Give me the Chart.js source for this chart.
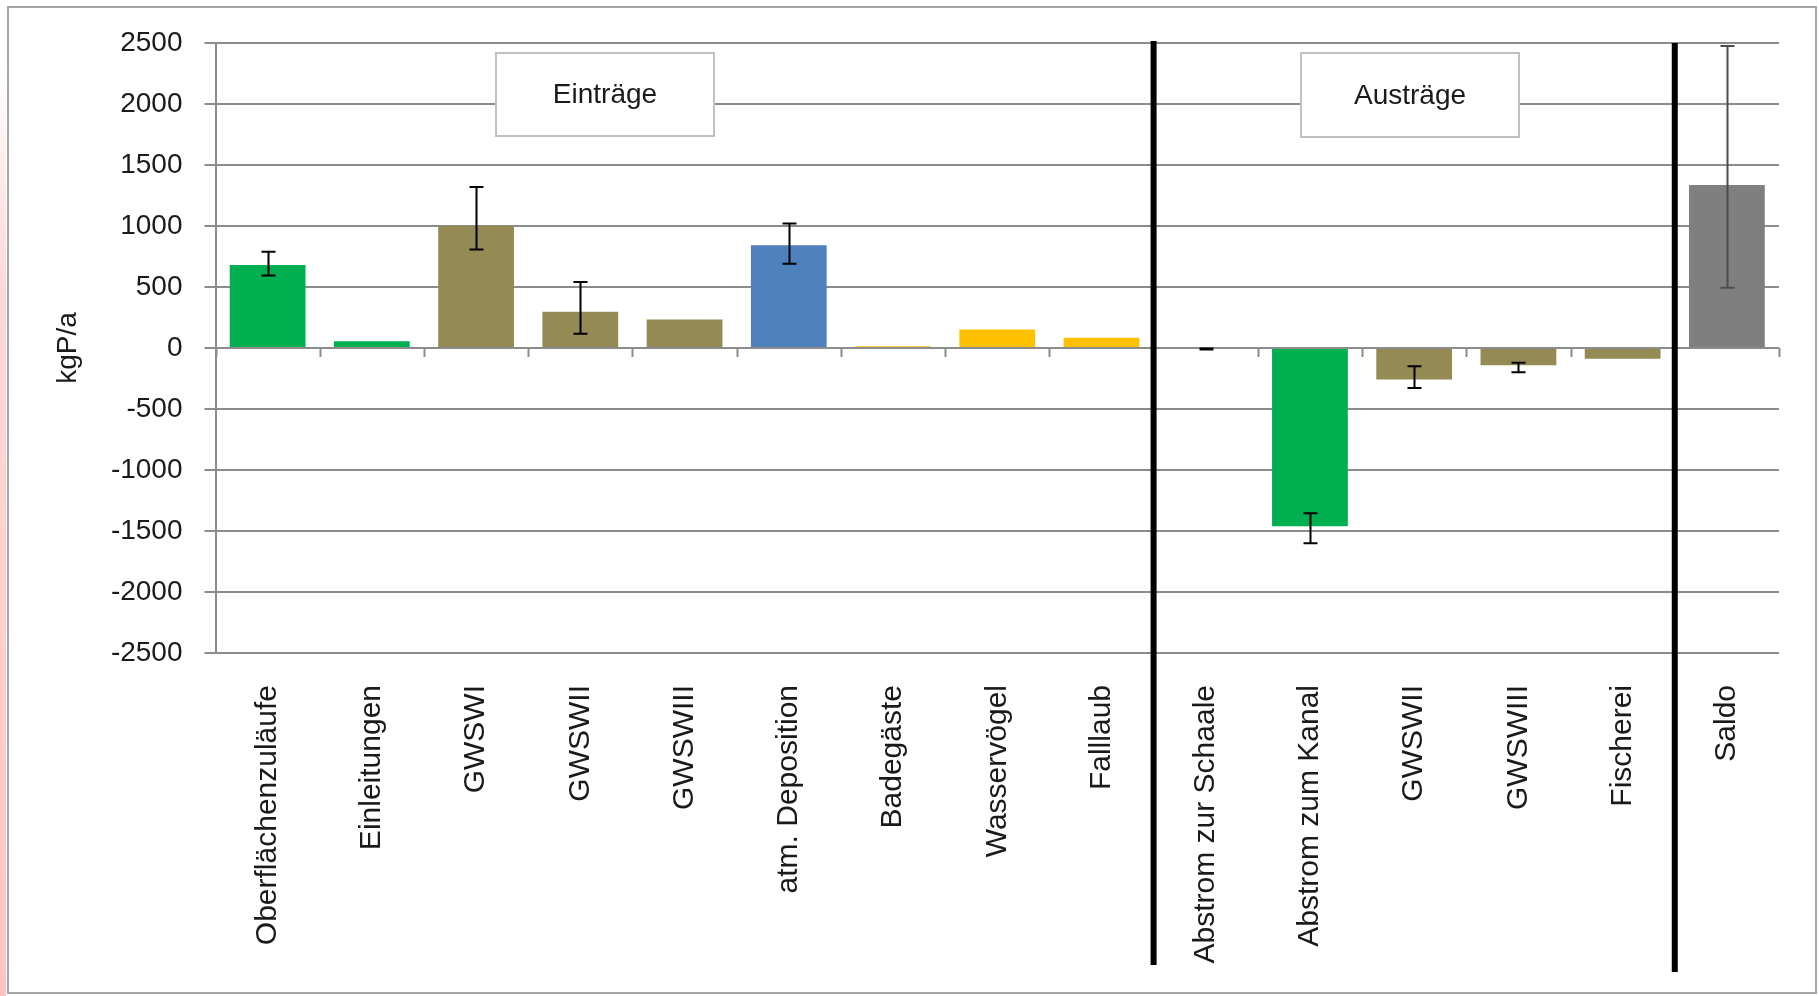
<!DOCTYPE html>
<html lang="de">
<head>
<meta charset="utf-8">
<title>Phosphorbilanz – Einträge und Austräge</title>
<script src="https://cdn.jsdelivr.net/npm/chart.js@4.4.1/dist/chart.umd.min.js"></script>
<style>
  html, body { margin: 0; padding: 0; background: #ffffff; }
  #wrap { position: relative; width: 1819px; height: 996px; }
  canvas { display: block; }
</style>
</head>
<body>
<div id="wrap"><canvas id="chart" width="1819" height="996"></canvas></div>
<script>
// Phosphorus budget (kgP/a): inputs, outputs and balance
const categories = [
  'Oberflächenzuläufe', 'Einleitungen', 'GWSWI', 'GWSWII', 'GWSWIII',
  'atm. Deposition', 'Badegäste', 'Wasservögel', 'Falllaub',
  'Abstrom zur Schaale', 'Abstrom zum Kanal', 'GWSWII', 'GWSWIII', 'Fischerei',
  'Saldo'
];
const values  = [680, 56, 1000, 297, 234, 843, 15, 151, 83, -8, -1462, -258, -141, -89, 1336];
// lower / upper end of each error bar (null = no error bar)
const errLow  = [595, null, 808, 116, null, 691, null, null, null, -12, -1601, -327, -199, null, 494];
const errHigh = [789, null, 1319, 540, null, 1021, null, null, null, -4, -1355, -149, -121, null, 2476];
const barColors = [
  '#00B050', '#00B050', '#948A54', '#948A54', '#948A54',
  '#4F81BD', '#FFC000', '#FFC000', '#FFC000',
  '#00B050', '#00B050', '#948A54', '#948A54', '#948A54',
  '#7F7F7F'
];
const errColors = [
  '#000', '#000', '#000', '#000', '#000', '#000', '#000', '#000', '#000',
  '#000', '#000', '#000', '#000', '#000', '#4D4D4D'
];
const yMin = -2500, yMax = 2500, yStep = 500;
const groupTitles = ['Einträge', 'Austräge'];
const groupBreaks = [9, 14];   // category index where a new block starts

const FONT = '"Liberation Sans", Arial, sans-serif';
const GRID = '#8C8C8C';

const decorations = {
  id: 'decorations',
  beforeDraw(chart) {
    const ctx = chart.ctx;
    ctx.save();
    ctx.fillStyle = '#ffffff';
    ctx.fillRect(0, 0, chart.width, chart.height);
    // reddish edge on the left side
    const g = ctx.createLinearGradient(0, 60, 0, chart.height);
    g.addColorStop(0, 'rgba(255,200,200,0)');
    g.addColorStop(0.25, 'rgba(255,205,205,0.8)');
    g.addColorStop(1, 'rgba(255,195,195,1)');
    ctx.fillStyle = g;
    ctx.fillRect(0, 60, 6, chart.height - 60);
    // outer frame
    ctx.strokeStyle = '#A6A6A6';
    ctx.lineWidth = 2;
    ctx.strokeRect(8, 7, 1808, 986);
    ctx.restore();
  },
  afterDatasetsDraw(chart, args, opts) {
    const ctx = chart.ctx;
    const xs = chart.scales.x, ys = chart.scales.y;
    const step = xs.getPixelForValue(1) - xs.getPixelForValue(0);
    const y0 = ys.getPixelForValue(0);
    ctx.save();

    // category tick marks on the zero line
    ctx.strokeStyle = GRID;
    ctx.lineWidth = 2;
    ctx.beginPath();
    for (let i = 0; i <= categories.length; i++) {
      const px = Math.round(xs.getPixelForValue(0) - step / 2 + i * step) + 0.5;
      ctx.moveTo(px, y0);
      ctx.lineTo(px, y0 + 9);
    }
    ctx.stroke();

    // error bars
    ctx.lineWidth = 2;
    for (let i = 0; i < categories.length; i++) {
      if (errLow[i] === null || errHigh[i] === null) continue;
      const px = Math.round(xs.getPixelForValue(i)) + 0.5;
      const yl = ys.getPixelForValue(errLow[i]);
      const yh = ys.getPixelForValue(errHigh[i]);
      ctx.strokeStyle = errColors[i];
      ctx.beginPath();
      ctx.moveTo(px, yl); ctx.lineTo(px, yh);
      ctx.moveTo(px - 7, yl); ctx.lineTo(px + 7, yl);
      ctx.moveTo(px - 7, yh); ctx.lineTo(px + 7, yh);
      ctx.stroke();
    }

    // block captions
    opts.boxes.forEach((b, k) => {
      ctx.fillStyle = '#ffffff';
      ctx.fillRect(b.x, b.y, b.w, b.h);
      ctx.strokeStyle = '#C0C0C0';
      ctx.lineWidth = 2;
      ctx.strokeRect(b.x, b.y, b.w, b.h);
      ctx.fillStyle = '#1A1A1A';
      ctx.font = '28px ' + FONT;
      ctx.textAlign = 'center';
      ctx.textBaseline = 'middle';
      ctx.fillText(groupTitles[k], b.x + b.w / 2, b.y + b.h / 2 + 1);
    });

    // heavy separators between the blocks
    ctx.strokeStyle = '#000000';
    ctx.lineWidth = 6;
    groupBreaks.forEach((idx, k) => {
      const px = (xs.getPixelForValue(idx - 1) + xs.getPixelForValue(idx)) / 2;
      ctx.beginPath();
      ctx.moveTo(px, opts.sepTop[k]);
      ctx.lineTo(px, opts.sepBottom[k]);
      ctx.stroke();
    });
    ctx.restore();
  }
};

new Chart(document.getElementById('chart'), {
  type: 'bar',
  data: {
    labels: categories,
    datasets: [{
      data: values,
      backgroundColor: barColors,
      borderWidth: 0,
      categoryPercentage: 1.0,
      barPercentage: 0.727
    }]
  },
  options: {
    responsive: false,
    animation: false,
    devicePixelRatio: 1,
    layout: { padding: { left: 51, top: 43, right: 40, bottom: 0 } },
    plugins: {
      legend: { display: false },
      tooltip: { enabled: false },
      decorations: {
        boxes: [
          { x: 496, y: 53, w: 218, h: 83 },
          { x: 1301, y: 53, w: 218, h: 84 }
        ],
        sepTop: [41, 43],
        sepBottom: [965, 972]
      }
    },
    scales: {
      x: {
        afterFit(scale) { scale.height = 343; },
        grid: { display: false, drawTicks: false },
        border: { display: false },
        ticks: {
          autoSkip: false,
          minRotation: 90,
          maxRotation: 90,
          padding: 32,
          color: '#1A1A1A',
          font: { family: FONT, size: 30 }
        }
      },
      y: {
        min: yMin,
        max: yMax,
        afterFit(scale) { scale.width = 164.5; },
        grid: { color: GRID, lineWidth: 2, tickLength: 11, drawTicks: true },
        border: { display: true, color: GRID, width: 2 },
        ticks: {
          stepSize: yStep,
          padding: 22,
          color: '#1A1A1A',
          font: { family: FONT, size: 28 },
          callback: (v) => String(v)
        },
        title: {
          display: true,
          text: 'kgP/a',
          color: '#1A1A1A',
          padding: 0,
          font: { family: FONT, size: 28 }
        }
      }
    }
  },
  plugins: [decorations]
});
</script>
</body>
</html>
